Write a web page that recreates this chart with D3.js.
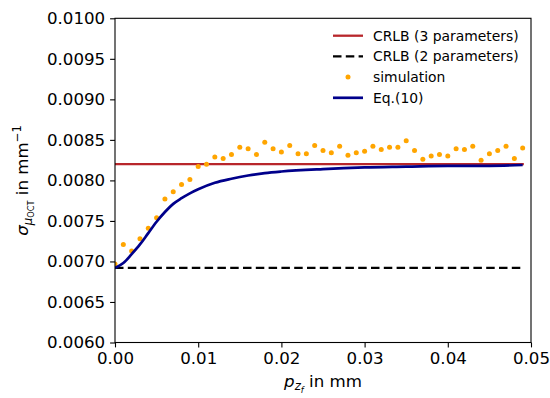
<!DOCTYPE html>
<html>
<head>
<meta charset="utf-8">
<script src="https://cdn.jsdelivr.net/npm/d3@7"></script>
<style>
  body { margin: 0; background: #fff; }
  svg { font-family: "DejaVu Sans", sans-serif; }
</style>
</head>
<body>
<div id="chart"></div>
<script>
// simulation points (x in mm, sigma in mm^-1)
const simX = d3.range(50).map(i => i * 0.001);
const simY = [
  0.00697, 0.00721, 0.00713, 0.00728, 0.00741, 0.00754, 0.00777, 0.00786, 0.00795, 0.00801,
  0.00817, 0.00820, 0.00829, 0.00827, 0.00832, 0.00841, 0.00839, 0.00832, 0.00847, 0.00839,
  0.00835, 0.00843, 0.00833, 0.00833, 0.00843, 0.00837, 0.00834, 0.00842, 0.00831, 0.00834,
  0.00836, 0.00842, 0.00838, 0.00841, 0.00841, 0.00849, 0.00837, 0.00826, 0.00830, 0.00832,
  0.00830, 0.00839, 0.00838, 0.00842, 0.00825, 0.00833, 0.00837, 0.00842, 0.00827, 0.00840
];

// Eq.(10) curve
const eqX = [0, 0.001, 0.002, 0.003, 0.004, 0.005, 0.006, 0.007, 0.008, 0.009, 0.010,
  0.012, 0.014, 0.016, 0.018, 0.020, 0.025, 0.030, 0.035, 0.040, 0.045, 0.049];
const eqY = [0.00692, 0.00698, 0.00709, 0.00721, 0.00735, 0.00749, 0.00761, 0.00771, 0.00778, 0.00784, 0.00789,
  0.00797, 0.00802, 0.00806, 0.00809, 0.00811, 0.00814, 0.00816, 0.00817, 0.00818, 0.00818, 0.00819];

const crlb3 = 0.00820;
const crlb2 = 0.00692;
const lineRange = [0, 0.049];

const xTicks = [0, 0.01, 0.02, 0.03, 0.04, 0.05];
const yTicks = [0.0060, 0.0065, 0.0070, 0.0075, 0.0080, 0.0085, 0.0090, 0.0095, 0.0100];

const legendItems = ["CRLB (3 parameters)", "CRLB (2 parameters)", "simulation", "Eq.(10)"];

const colors = { red: "#b8262b", black: "#000000", orange: "#ffa500", blue: "#00008b" };

// Set up dimensions
const width = 550, height = 398;
const margin = { left: 115, top: 18.3, right: 19, bottom: 55.5 };
const plotW = width - margin.left - margin.right;
const plotH = height - margin.top - margin.bottom;

const svg = d3.select("#chart").append("svg")
  .attr("width", width)
  .attr("height", height);

const g = svg.append("g")
  .attr("transform", `translate(${margin.left},${margin.top})`);

const x = d3.scaleLinear().domain([0, 0.05]).range([0, plotW]);
const y = d3.scaleLinear().domain([0.006, 0.010]).range([plotH, 0]);

g.append("clipPath").attr("id", "clip")
  .append("rect").attr("width", plotW).attr("height", plotH);

const plot = g.append("g").attr("clip-path", "url(#clip)");

// CRLB (3 parameters)
plot.append("line")
  .attr("x1", x(lineRange[0])).attr("x2", x(lineRange[1]))
  .attr("y1", y(crlb3)).attr("y2", y(crlb3))
  .attr("stroke", colors.red).attr("stroke-width", 2.3)
  .attr("stroke-linecap", "square");

// CRLB (2 parameters)
plot.append("line")
  .attr("x1", x(lineRange[0])).attr("x2", x(lineRange[1]))
  .attr("y1", y(crlb2)).attr("y2", y(crlb2))
  .attr("stroke", colors.black).attr("stroke-width", 2.3)
  .attr("stroke-dasharray", "8.5,4.3");

// simulation dots
plot.selectAll("circle.sim")
  .data(simX.map((d, i) => [d, simY[i]]))
  .join("circle")
  .attr("class", "sim")
  .attr("cx", d => x(d[0]))
  .attr("cy", d => y(d[1]))
  .attr("r", 2.5)
  .attr("fill", colors.orange);

// Eq.(10)
const line = d3.line()
  .x(d => x(d[0]))
  .y(d => y(d[1]))
  .curve(d3.curveMonotoneX);

plot.append("path")
  .datum(eqX.map((d, i) => [d, eqY[i]]))
  .attr("d", line)
  .attr("fill", "none")
  .attr("stroke", colors.blue)
  .attr("stroke-width", 2.7);

// Axes
const xAxis = d3.axisBottom(x).tickValues(xTicks).tickFormat(d3.format(".2f")).tickSize(4.9).tickPadding(4.9);
const yAxis = d3.axisLeft(y).tickValues(yTicks).tickFormat(d3.format(".4f")).tickSize(4.9).tickPadding(4.9);

const gx = g.append("g").attr("transform", `translate(0,${plotH})`).call(xAxis);
const gy = g.append("g").call(yAxis);

[gx, gy].forEach(a => {
  a.select(".domain").remove();
  a.selectAll("line").attr("stroke", "#000").attr("stroke-width", 1.1);
  a.selectAll("text").attr("font-size", "16.67px").attr("fill", "#000")
    .attr("font-family", "DejaVu Sans, sans-serif");
});
gx.selectAll("text").attr("dy", "0.71em");

// frame
g.append("rect")
  .attr("width", plotW).attr("height", plotH)
  .attr("fill", "none").attr("stroke", "#000").attr("stroke-width", 1.1);

// x label: p_{z_f} in mm
const xl = svg.append("text")
  .attr("x", margin.left + plotW / 2)
  .attr("y", 386.5)
  .attr("text-anchor", "middle")
  .attr("font-size", "16.67px")
  .attr("fill", "#000");
xl.append("tspan").attr("font-style", "italic").text("p");
xl.append("tspan").attr("font-style", "italic").attr("font-size", "11.7px").attr("dy", 3.5).text("z");
xl.append("tspan").attr("font-style", "italic").attr("font-size", "8.3px").attr("dy", 2.5).text("f");
xl.append("tspan").attr("dy", -6).text(" in mm");

// y label: sigma_{mu_OCT} in mm^-1
const yl = svg.append("text")
  .attr("transform", `translate(28,${margin.top + plotH / 2}) rotate(-90)`)
  .attr("text-anchor", "middle")
  .attr("font-size", "16.67px")
  .attr("fill", "#000");
yl.append("tspan").attr("font-style", "italic").text("σ");
yl.append("tspan").attr("font-style", "italic").attr("font-size", "11.7px").attr("dy", 3.5).text("μ");
yl.append("tspan").attr("font-size", "8.3px").attr("dy", 2.5).text("OCT");
yl.append("tspan").attr("dy", -6).text(" in mm");
yl.append("tspan").attr("font-size", "11.7px").attr("dy", -7).text("−1");

// Legend
const legend = svg.append("g").attr("transform", "translate(333,35.7)");
const rowH = 20.7;
legendItems.forEach((label, i) => {
  const row = legend.append("g").attr("transform", `translate(0,${i * rowH})`);
  if (i === 0) {
    row.append("line").attr("x1", 0).attr("x2", 30)
      .attr("stroke", colors.red).attr("stroke-width", 2.3);
  } else if (i === 1) {
    row.append("line").attr("x1", 0).attr("x2", 30)
      .attr("stroke", colors.black).attr("stroke-width", 2.3)
      .attr("stroke-dasharray", "8.5,4.3");
  } else if (i === 2) {
    row.append("circle").attr("cx", 15).attr("r", 2.5).attr("fill", colors.orange);
  } else {
    row.append("line").attr("x1", 0).attr("x2", 30)
      .attr("stroke", colors.blue).attr("stroke-width", 2.7);
  }
  row.append("text")
    .attr("x", 40)
    .attr("dy", "0.35em")
    .attr("font-size", "13.9px")
    .attr("fill", "#000")
    .text(label);
});
</script>
</body>
</html>
